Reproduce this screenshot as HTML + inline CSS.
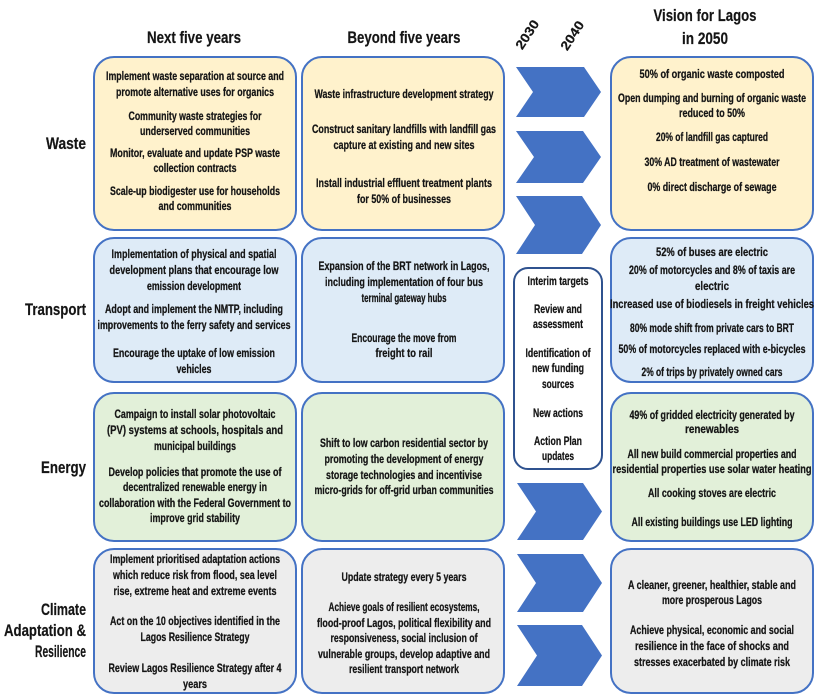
<!DOCTYPE html>
<html>
<head>
<meta charset="utf-8">
<style>
html,body{margin:0;padding:0;background:#fff;}
svg{display:block;}
text{font-family:"Liberation Sans Narrow","Liberation Sans",sans-serif;font-weight:bold;fill:#151515;}
.t{font-size:11.5px;text-anchor:middle;stroke:#151515;stroke-width:0.25px;}
.h{font-size:17px;text-anchor:middle;stroke:#151515;stroke-width:0.2px;}
.l{font-size:16.5px;text-anchor:end;stroke:#151515;stroke-width:0.2px;}
.y{font-size:13px;text-anchor:middle;stroke:#151515;stroke-width:0.2px;}
</style>
</head>
<body>
<svg width="816" height="696" viewBox="0 0 816 696" xmlns="http://www.w3.org/2000/svg">
<rect x="0" y="0" width="816" height="696" fill="#fff"/>

<!-- Headers -->
<text class="h" x="194" y="43" textLength="94" lengthAdjust="spacingAndGlyphs">Next five years</text>
<text class="h" x="404" y="43" textLength="113" lengthAdjust="spacingAndGlyphs">Beyond five years</text>
<text class="h" x="705" y="21" textLength="103" lengthAdjust="spacingAndGlyphs">Vision for Lagos</text>
<text class="h" x="705" y="44" textLength="46" lengthAdjust="spacingAndGlyphs">in 2050</text>
<text class="y" x="0" y="0" transform="translate(531,37) rotate(-57)" textLength="32" lengthAdjust="spacingAndGlyphs">2030</text>
<text class="y" x="0" y="0" transform="translate(576,38) rotate(-57)" textLength="32" lengthAdjust="spacingAndGlyphs">2040</text>

<!-- Row labels -->
<text class="l" x="86" y="149" textLength="40" lengthAdjust="spacingAndGlyphs">Waste</text>
<text class="l" x="86" y="315" textLength="61" lengthAdjust="spacingAndGlyphs">Transport</text>
<text class="l" x="86" y="473" textLength="45" lengthAdjust="spacingAndGlyphs">Energy</text>
<text class="l" x="86" y="615" textLength="45" lengthAdjust="spacingAndGlyphs">Climate</text>
<text class="l" x="86" y="636" textLength="82" lengthAdjust="spacingAndGlyphs">Adaptation &amp;</text>
<text class="l" x="86" y="657" textLength="51" lengthAdjust="spacingAndGlyphs">Resilience</text>

<!-- Boxes -->
<g stroke="#4472C4" stroke-width="2">
<rect x="94" y="57" width="202" height="173" rx="20" fill="#FFF2CC"/>
<rect x="302" y="57" width="202" height="173" rx="20" fill="#FFF2CC"/>
<rect x="611" y="57" width="202" height="173" rx="20" fill="#FFF2CC"/>

<rect x="94" y="238" width="202" height="144" rx="20" fill="#DEEBF7"/>
<rect x="302" y="238" width="202" height="144" rx="20" fill="#DEEBF7"/>
<rect x="611" y="238" width="202" height="144" rx="20" fill="#DEEBF7"/>

<rect x="94" y="393" width="202" height="148" rx="20" fill="#E2F0D9"/>
<rect x="302" y="393" width="202" height="148" rx="20" fill="#E2F0D9"/>
<rect x="611" y="393" width="202" height="148" rx="20" fill="#E2F0D9"/>

<rect x="94" y="549" width="202" height="144" rx="20" fill="#EDEDED"/>
<rect x="302" y="549" width="202" height="144" rx="20" fill="#EDEDED"/>
<rect x="611" y="549" width="202" height="144" rx="20" fill="#EDEDED"/>
</g>
<rect x="514" y="268" width="88" height="201" rx="14" fill="#fff" stroke="#2F528F" stroke-width="2"/>

<!-- Chevrons -->
<g fill="#4472C4">
<polygon points="516,67 584,67 601,92 584,117 516,117 533,92"/>
<polygon points="516,131 583,131 601,157 583,183 516,183 534,157"/>
<polygon points="516,196 582,196 601,225 582,254 516,254 535,225"/>
<polygon points="517,483 583,483 602,511.5 583,540 517,540 536,511.5"/>
<polygon points="517,554 583,554 602,583 583,612 517,612 536,583"/>
<polygon points="517,625 582,625 602,655.5 582,686 517,686 537,655.5"/>
</g>

<!-- Waste col1 -->
<text class="t" x="195" y="80" textLength="178" lengthAdjust="spacingAndGlyphs">Implement waste separation at source and</text>
<text class="t" x="195" y="96" textLength="158" lengthAdjust="spacingAndGlyphs">promote alternative uses for organics</text>
<text class="t" x="195" y="120" textLength="133" lengthAdjust="spacingAndGlyphs">Community waste strategies for</text>
<text class="t" x="195" y="135" textLength="110" lengthAdjust="spacingAndGlyphs">underserved communities</text>
<text class="t" x="195" y="157" textLength="170" lengthAdjust="spacingAndGlyphs">Monitor, evaluate and update PSP waste</text>
<text class="t" x="195" y="172" textLength="83" lengthAdjust="spacingAndGlyphs">collection contracts</text>
<text class="t" x="195" y="195" textLength="170" lengthAdjust="spacingAndGlyphs">Scale-up biodigester use for households</text>
<text class="t" x="195" y="210" textLength="73" lengthAdjust="spacingAndGlyphs">and communities</text>

<!-- Waste col2 -->
<text class="t" x="404" y="98" textLength="179" lengthAdjust="spacingAndGlyphs">Waste infrastructure development strategy</text>
<text class="t" x="404" y="133" textLength="184" lengthAdjust="spacingAndGlyphs">Construct sanitary landfills with landfill gas</text>
<text class="t" x="404" y="149" textLength="141" lengthAdjust="spacingAndGlyphs">capture at existing and new sites</text>
<text class="t" x="404" y="187" textLength="176" lengthAdjust="spacingAndGlyphs">Install industrial effluent treatment plants</text>
<text class="t" x="404" y="203" textLength="94" lengthAdjust="spacingAndGlyphs">for 50% of businesses</text>

<!-- Waste col4 -->
<text class="t" x="712" y="78" textLength="145" lengthAdjust="spacingAndGlyphs">50% of organic waste composted</text>
<text class="t" x="712" y="102" textLength="188" lengthAdjust="spacingAndGlyphs">Open dumping and burning of organic waste</text>
<text class="t" x="712" y="117" textLength="66" lengthAdjust="spacingAndGlyphs">reduced to 50%</text>
<text class="t" x="712" y="141" textLength="112" lengthAdjust="spacingAndGlyphs">20% of landfill gas captured</text>
<text class="t" x="712" y="166" textLength="135" lengthAdjust="spacingAndGlyphs">30% AD treatment of wastewater</text>
<text class="t" x="712" y="191" textLength="129" lengthAdjust="spacingAndGlyphs">0% direct discharge of sewage</text>

<!-- Transport col1 -->
<text class="t" x="194" y="258" textLength="165" lengthAdjust="spacingAndGlyphs">Implementation of physical and spatial</text>
<text class="t" x="194" y="274" textLength="169" lengthAdjust="spacingAndGlyphs">development plans that encourage low</text>
<text class="t" x="194" y="290" textLength="94" lengthAdjust="spacingAndGlyphs">emission development</text>
<text class="t" x="194" y="313" textLength="178" lengthAdjust="spacingAndGlyphs">Adopt and implement the NMTP, including</text>
<text class="t" x="194" y="329" textLength="193" lengthAdjust="spacingAndGlyphs">improvements to the ferry safety and services</text>
<text class="t" x="194" y="357" textLength="162" lengthAdjust="spacingAndGlyphs">Encourage the uptake of low emission</text>
<text class="t" x="194" y="373" textLength="35" lengthAdjust="spacingAndGlyphs">vehicles</text>

<!-- Transport col2 -->
<text class="t" x="404" y="270" textLength="171" lengthAdjust="spacingAndGlyphs">Expansion of the BRT network in Lagos,</text>
<text class="t" x="404" y="286" textLength="158" lengthAdjust="spacingAndGlyphs">including implementation of four bus</text>
<text class="t" x="404" y="302" textLength="85" lengthAdjust="spacingAndGlyphs">terminal gateway hubs</text>
<text class="t" x="404" y="342" textLength="105" lengthAdjust="spacingAndGlyphs">Encourage the move from</text>
<text class="t" x="404" y="357" textLength="57" lengthAdjust="spacingAndGlyphs">freight to rail</text>

<!-- Interim -->
<text class="t" x="558" y="285" textLength="61" lengthAdjust="spacingAndGlyphs">Interim targets</text>
<text class="t" x="558" y="313" textLength="48" lengthAdjust="spacingAndGlyphs">Review and</text>
<text class="t" x="558" y="328" textLength="50" lengthAdjust="spacingAndGlyphs">assessment</text>
<text class="t" x="558" y="357" textLength="65" lengthAdjust="spacingAndGlyphs">Identification of</text>
<text class="t" x="558" y="372" textLength="52" lengthAdjust="spacingAndGlyphs">new funding</text>
<text class="t" x="558" y="388" textLength="32" lengthAdjust="spacingAndGlyphs">sources</text>
<text class="t" x="558" y="417" textLength="50" lengthAdjust="spacingAndGlyphs">New actions</text>
<text class="t" x="558" y="445" textLength="48" lengthAdjust="spacingAndGlyphs">Action Plan</text>
<text class="t" x="558" y="460" textLength="32" lengthAdjust="spacingAndGlyphs">updates</text>

<!-- Transport col4 -->
<text class="t" x="712" y="256" textLength="112" lengthAdjust="spacingAndGlyphs">52% of buses are electric</text>
<text class="t" x="712" y="274" textLength="166" lengthAdjust="spacingAndGlyphs">20% of motorcycles and 8% of taxis are</text>
<text class="t" x="712" y="290" textLength="34" lengthAdjust="spacingAndGlyphs">electric</text>
<text class="t" x="712" y="308" textLength="204" lengthAdjust="spacingAndGlyphs">Increased use of biodiesels in freight vehicles</text>
<text class="t" x="712" y="332" textLength="164" lengthAdjust="spacingAndGlyphs">80% mode shift from private cars to BRT</text>
<text class="t" x="712" y="353" textLength="187" lengthAdjust="spacingAndGlyphs">50% of motorcycles replaced with e-bicycles</text>
<text class="t" x="712" y="376" textLength="141" lengthAdjust="spacingAndGlyphs">2% of trips by privately owned cars</text>

<!-- Energy col1 -->
<text class="t" x="195" y="418" textLength="161" lengthAdjust="spacingAndGlyphs">Campaign to install solar photovoltaic</text>
<text class="t" x="195" y="434" textLength="176" lengthAdjust="spacingAndGlyphs">(PV) systems at schools, hospitals and</text>
<text class="t" x="195" y="450" textLength="82" lengthAdjust="spacingAndGlyphs">municipal buildings</text>
<text class="t" x="195" y="476" textLength="173" lengthAdjust="spacingAndGlyphs">Develop policies that promote the use of</text>
<text class="t" x="195" y="491" textLength="144" lengthAdjust="spacingAndGlyphs">decentralized renewable energy in</text>
<text class="t" x="195" y="507" textLength="192" lengthAdjust="spacingAndGlyphs">collaboration with the Federal Government to</text>
<text class="t" x="195" y="522" textLength="90" lengthAdjust="spacingAndGlyphs">improve grid stability</text>

<!-- Energy col2 -->
<text class="t" x="404" y="447" textLength="168" lengthAdjust="spacingAndGlyphs">Shift to low carbon residential sector by</text>
<text class="t" x="404" y="463" textLength="159" lengthAdjust="spacingAndGlyphs">promoting the development of energy</text>
<text class="t" x="404" y="479" textLength="156" lengthAdjust="spacingAndGlyphs">storage technologies and incentivise</text>
<text class="t" x="404" y="494" textLength="179" lengthAdjust="spacingAndGlyphs">micro-grids for off-grid urban communities</text>

<!-- Energy col4 -->
<text class="t" x="712" y="419" textLength="165" lengthAdjust="spacingAndGlyphs">49% of gridded electricity generated by</text>
<text class="t" x="712" y="433" textLength="54" lengthAdjust="spacingAndGlyphs">renewables</text>
<text class="t" x="712" y="458" textLength="169" lengthAdjust="spacingAndGlyphs">All new build commercial properties and</text>
<text class="t" x="712" y="473" textLength="199" lengthAdjust="spacingAndGlyphs">residential properties use solar water heating</text>
<text class="t" x="712" y="497" textLength="128" lengthAdjust="spacingAndGlyphs">All cooking stoves are electric</text>
<text class="t" x="712" y="526" textLength="161" lengthAdjust="spacingAndGlyphs">All existing buildings use LED lighting</text>

<!-- Climate col1 -->
<text class="t" x="195" y="563" textLength="170" lengthAdjust="spacingAndGlyphs">Implement prioritised adaptation actions</text>
<text class="t" x="195" y="579" textLength="164" lengthAdjust="spacingAndGlyphs">which reduce risk from flood, sea level</text>
<text class="t" x="195" y="595" textLength="163" lengthAdjust="spacingAndGlyphs">rise, extreme heat and extreme events</text>
<text class="t" x="195" y="625" textLength="170" lengthAdjust="spacingAndGlyphs">Act on the 10 objectives identified in the</text>
<text class="t" x="195" y="641" textLength="109" lengthAdjust="spacingAndGlyphs">Lagos Resilience Strategy</text>
<text class="t" x="195" y="672" textLength="173" lengthAdjust="spacingAndGlyphs">Review Lagos Resilience Strategy after 4</text>
<text class="t" x="195" y="688" textLength="24" lengthAdjust="spacingAndGlyphs">years</text>

<!-- Climate col2 -->
<text class="t" x="404" y="581" textLength="125" lengthAdjust="spacingAndGlyphs">Update strategy every 5 years</text>
<text class="t" x="404" y="611" textLength="151" lengthAdjust="spacingAndGlyphs">Achieve goals of resilient ecosystems,</text>
<text class="t" x="404" y="627" textLength="174" lengthAdjust="spacingAndGlyphs">flood-proof Lagos, political flexibility and</text>
<text class="t" x="404" y="642" textLength="147" lengthAdjust="spacingAndGlyphs">responsiveness, social inclusion of</text>
<text class="t" x="404" y="658" textLength="172" lengthAdjust="spacingAndGlyphs">vulnerable groups, develop adaptive and</text>
<text class="t" x="404" y="673" textLength="110" lengthAdjust="spacingAndGlyphs">resilient transport network</text>

<!-- Climate col4 -->
<text class="t" x="712" y="589" textLength="168" lengthAdjust="spacingAndGlyphs">A cleaner, greener, healthier, stable and</text>
<text class="t" x="712" y="604" textLength="100" lengthAdjust="spacingAndGlyphs">more prosperous Lagos</text>
<text class="t" x="712" y="634" textLength="164" lengthAdjust="spacingAndGlyphs">Achieve physical, economic and social</text>
<text class="t" x="712" y="650" textLength="154" lengthAdjust="spacingAndGlyphs">resilience in the face of shocks and</text>
<text class="t" x="712" y="666" textLength="156" lengthAdjust="spacingAndGlyphs">stresses exacerbated by climate risk</text>
</svg>
</body>
</html>
